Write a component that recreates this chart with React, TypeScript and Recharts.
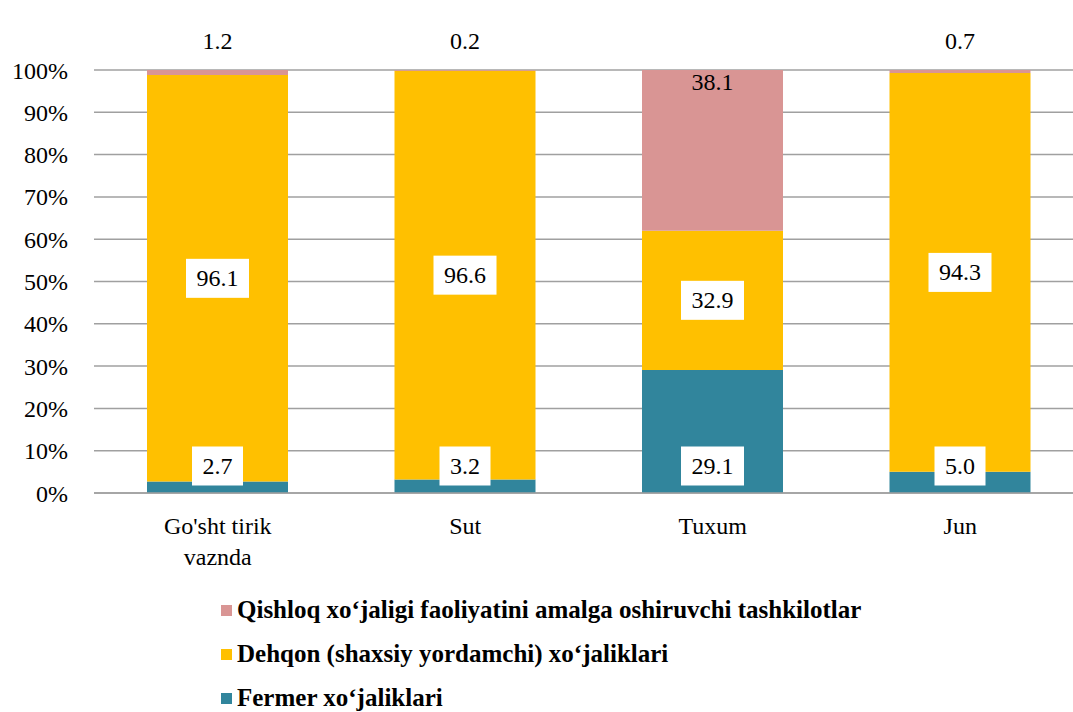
import React from "react";
import { BarChart, Bar, XAxis, YAxis, CartesianGrid, Legend, LabelList } from "recharts";

const categories = ["Go'sht tirik vaznda", "Sut", "Tuxum", "Jun"];
const fermer = [2.7, 3.2, 29.1, 5.0];
const dehqon = [96.1, 96.6, 32.9, 94.3];
const qishloq = [1.2, 0.2, 38.1, 0.7];
const yTicks = [0, 10, 20, 30, 40, 50, 60, 70, 80, 90, 100];

const NAME_FERMER = "Fermer xoʻjaliklari";
const NAME_DEHQON = "Dehqon (shaxsiy yordamchi) xoʻjaliklari";
const NAME_QISHLOQ = "Qishloq xoʻjaligi faoliyatini amalga oshiruvchi tashkilotlar";

const PINK = "#D99594";
const YELLOW = "#FFC000";
const TEAL = "#31859C";
const FONT = '"Liberation Serif", "Tinos", "Times New Roman", "DejaVu Serif", serif';

const data = categories.map((name, i) => ({
  name,
  fermer: fermer[i],
  dehqon: dehqon[i],
  qishloq: qishloq[i],
}));

const legendItems = [
  { name: NAME_QISHLOQ, color: PINK },
  { name: NAME_DEHQON, color: YELLOW },
  { name: NAME_FERMER, color: TEAL },
];

// split long category names in two lines, like Excel does
const wrap = (s: string) => {
  if (s.length <= 12) return [s];
  const cut = s.lastIndexOf(" ", 12);
  return [s.slice(0, cut), s.slice(cut + 1)];
};

const BoxLabel = ({ x, y, width, height, value, mode }: any) => {
  const txt = Number(value).toFixed(1);
  const cx = x + width / 2;
  const cy = mode === "bottom" ? y + height - 27 : y + height / 2;
  const w = txt.length * 12 + 15;
  return (
    <g>
      <rect x={cx - w / 2} y={cy - 19.5} width={w} height={39} fill="#fff" />
      <text x={cx} y={cy + 8} textAnchor="middle" fontSize={24} fontFamily={FONT} fill="#000">
        {txt}
      </text>
    </g>
  );
};

const TopLabel = ({ x, y, width, value }: any) => {
  const txt = Number(value).toFixed(1);
  const cy = value < 5 ? y - 29 : y + 12;
  return (
    <text x={x + width / 2} y={cy + 8} textAnchor="middle" fontSize={24} fontFamily={FONT} fill="#000">
      {txt}
    </text>
  );
};

const XTick = ({ x, y, payload }: any) => (
  <text x={x} y={y} textAnchor="middle" fontSize={24} fontFamily={FONT} fill="#000">
    {wrap(payload.value).map((line, i) => (
      <tspan key={i} x={x} dy={i === 0 ? 39 : 31}>
        {line}
      </tspan>
    ))}
  </text>
);

const LegendBox = () => (
  <div style={{ height: 139, paddingLeft: 221, paddingTop: 15, boxSizing: "border-box", fontFamily: FONT }}>
    {legendItems.map((it) => (
      <div key={it.name} style={{ display: "flex", alignItems: "center", height: 44 }}>
        <span style={{ width: 11, height: 11, background: it.color, marginRight: 5, display: "inline-block" }} />
        <span style={{ fontSize: 25, fontWeight: "bold", color: "#000", whiteSpace: "nowrap" }}>{it.name}</span>
      </div>
    ))}
  </div>
);

export default function App() {
  return (
    <div style={{ position: "fixed", left: 0, top: 0, width: 1073, height: 712, overflow: "hidden", background: "#fff" }}>
      <BarChart width={1084} height={712} data={data} margin={{ top: 70, right: 0, bottom: 0, left: 0 }} barSize={141}>
        <CartesianGrid vertical={false} stroke="#a0a0a0" strokeWidth={1.5} />
        <XAxis
          dataKey="name"
          axisLine={{ stroke: "#a0a0a0", strokeWidth: 1.5 }}
          tickLine={false}
          tickSize={0}
          height={80}
          tick={<XTick />}
          interval={0}
        />
        <YAxis
          domain={[0, 100]}
          ticks={yTicks}
          allowDataOverflow
          width={94}
          axisLine={false}
          tickLine={false}
          tickSize={0}
          tickMargin={26}
          tickFormatter={(v: number) => `${v}%`}
          tick={{ fontSize: 24, fontFamily: FONT, fill: "#000" }}
        />
        <Legend verticalAlign="bottom" content={<LegendBox />} wrapperStyle={{ left: 0, width: 1084 }} />
        <Bar dataKey="fermer" name={NAME_FERMER} stackId="a" fill={TEAL} isAnimationActive={false}>
          <LabelList dataKey="fermer" content={<BoxLabel mode="bottom" />} />
        </Bar>
        <Bar dataKey="dehqon" name={NAME_DEHQON} stackId="a" fill={YELLOW} isAnimationActive={false}>
          <LabelList dataKey="dehqon" content={<BoxLabel mode="center" />} />
        </Bar>
        <Bar dataKey="qishloq" name={NAME_QISHLOQ} stackId="a" fill={PINK} isAnimationActive={false}>
          <LabelList dataKey="qishloq" content={<TopLabel />} />
        </Bar>
      </BarChart>
    </div>
  );
}
